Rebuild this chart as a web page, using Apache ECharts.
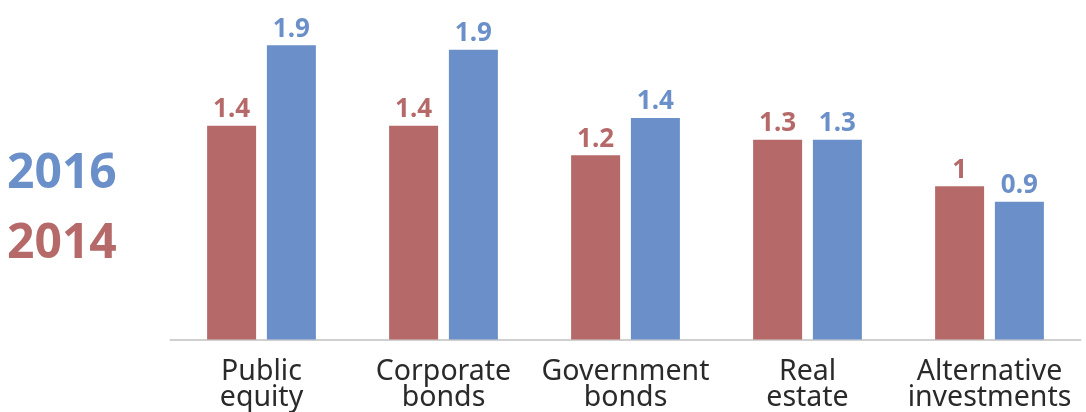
<!DOCTYPE html>
<html>
<head>
<meta charset="utf-8">
<script src="https://cdn.jsdelivr.net/npm/echarts@6/dist/echarts.min.js"></script>
<style>html,body{margin:0;padding:0;background:#fff}#c{width:1086px;height:412px}</style>
</head>
<body>
<div id="c"></div>
<script>
var categories = ['Public\nequity', 'Corporate\nbonds', 'Government\nbonds', 'Real\nestate', 'Alternative\ninvestments'];
var values2014 = [1.38, 1.38, 1.19, 1.29, 0.99];
var values2016 = [1.9, 1.87, 1.43, 1.29, 0.89];
var seriesNames = ['2014', '2016'];

var RED = '#b56a69', BLUE = '#6b90c9';
var FONT = '"Noto Sans", "Open Sans", sans-serif';
function fmt(p) { return String(Math.round(p.value * 10) / 10); }

var chart = echarts.init(document.getElementById('c'), null, {renderer: 'canvas'});
chart.setOption({
  animation: false,
  backgroundColor: '#fff',
  grid: {left: 170.5, right: 5.5, top: 29.7, bottom: 72.5, containLabel: false},
  legend: {
    orient: 'vertical', left: 2, top: 148, padding: 0, icon: 'none', itemWidth: 0, itemGap: 18,
    selectedMode: false,
    data: [
      {name: seriesNames[1], textStyle: {color: BLUE}},
      {name: seriesNames[0], textStyle: {color: RED}}
    ],
    textStyle: {fontFamily: FONT, fontWeight: 'bold', fontSize: 48, lineHeight: 52}
  },
  xAxis: {
    type: 'category', data: categories,
    axisLine: {show: true, lineStyle: {color: '#d0d0d0', width: 2}},
    axisTick: {show: false},
    axisLabel: {color: '#2a2a2a', fontFamily: FONT, fontSize: 28.5, lineHeight: 26, margin: 19, interval: 0}
  },
  yAxis: {type: 'value', min: 0, max: 2, show: false, splitLine: {show: false}},
  series: [
    {
      name: seriesNames[0], type: 'bar', data: values2014, barWidth: 49, barGap: '22%',
      itemStyle: {color: RED},
      label: {show: true, position: 'top', distance: 3, color: RED, fontFamily: FONT, fontWeight: 'bold', fontSize: 26, formatter: fmt}
    },
    {
      name: seriesNames[1], type: 'bar', data: values2016, barWidth: 49, barGap: '22%',
      itemStyle: {color: BLUE},
      label: {show: true, position: 'top', distance: 3, color: BLUE, fontFamily: FONT, fontWeight: 'bold', fontSize: 26, formatter: fmt}
    }
  ]
});
</script>
</body>
</html>
